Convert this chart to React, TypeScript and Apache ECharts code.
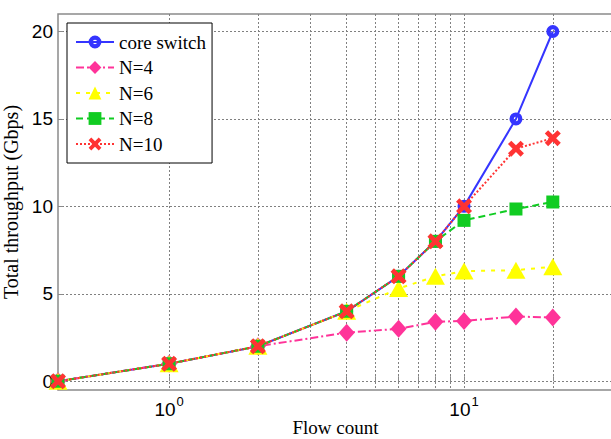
import React, { useEffect, useRef } from "react";
import * as echarts from "echarts";

const flowCounts = [0.42, 1, 2, 4, 6, 8, 10, 15, 20];
const coreSwitch = [0, 1, 2, 4, 6, 8, 10, 15, 20];
const n4 = [0, 1, 2, 2.78, 3.0, 3.4, 3.45, 3.7, 3.65];
const n6 = [0, 1, 2, 4, 5.3, 6.0, 6.3, 6.35, 6.55];
const n8 = [0, 1, 2, 4, 6, 8, 9.2, 9.85, 10.25];
const n10 = [0, 1, 2, 4, 6, 8, 10, 13.3, 13.9];

const xGridValues = [1, 2, 3, 4, 5, 6, 7, 8, 9, 10, 20];
const xLabelValues = [1, 10];
const yTickValues = [0, 5, 10, 15, 20];

const seriesNames = ["core switch", "N=4", "N=6", "N=8", "N=10"];

const crossPath =
  "path://M2.5,0 L6,3.5 L9.5,0 L12,2.5 L8.5,6 L12,9.5 L9.5,12 L6,8.5 L2.5,12 L0,9.5 L3.5,6 L0,2.5 Z";
const ringPath =
  "path://M0,6.5 A6.5,6.5 0 1,0 13,6.5 A6.5,6.5 0 1,0 0,6.5 Z M4.3,6.5 A2.2,2.2 0 1,1 8.7,6.5 A2.2,2.2 0 1,1 4.3,6.5 Z";

function pairs(ys: number[]) {
  return flowCounts.map((x, i) => [x, ys[i]]);
}

export default function App() {
  const ref = useRef<HTMLDivElement>(null);
  useEffect(() => {
    if (!ref.current) return;
    const chart = echarts.init(ref.current, null, { renderer: "svg" });
    const sans = "Liberation Sans";
    const serif = "Liberation Serif";
    chart.setOption({
      animation: false,
      backgroundColor: "#fff",
      grid: {
        left: 58,
        top: 14,
        width: 555,
        height: 376,
        show: true,
        borderColor: "#8a8a8a",
        borderWidth: 1.5,
        backgroundColor: "transparent",
        containLabel: false,
        outerBoundsMode: "none",
      },
      legend: {
        data: seriesNames,
        orient: "vertical",
        left: 67,
        top: 23,
        padding: [9, 6, 9, 8],
        itemGap: 5.5,
        itemWidth: 38,
        itemHeight: 16,
        backgroundColor: "#fff",
        borderColor: "#000",
        borderWidth: 1,
        borderRadius: 0,
        textStyle: { fontFamily: serif, fontSize: 19, color: "#000", lineHeight: 20 },
      },
      xAxis: {
        type: "log",
        logBase: 10,
        min: 0.42,
        max: 32,
        name: "Flow count",
        nameLocation: "middle",
        nameGap: 28,
        nameMoveOverlap: false,
        nameTextStyle: { fontFamily: serif, fontSize: 19, color: "#000", lineHeight: 19 },
        axisLine: { show: false },
        axisTick: {
          show: true,
          inside: true,
          length: 5,
          customValues: xGridValues,
          lineStyle: { color: "#8a8a8a" },
        },
        axisLabel: {
          customValues: xLabelValues,
          margin: 5,
          formatter: (v: number) =>
            "{b|10}{s|" + Math.round(Math.log10(v)) + "}",
          rich: {
            b: { fontFamily: sans, fontSize: 19, color: "#000", verticalAlign: "middle" },
            s: {
              fontFamily: sans,
              fontSize: 13,
              color: "#000",
              verticalAlign: "top",
              padding: [0, 0, 16, 1],
            },
          },
        },
        splitLine: {
          show: true,
          lineStyle: { color: "#808080", type: [2, 2], width: 1 },
        },
      },
      yAxis: {
        type: "value",
        min: -0.5,
        max: 21,
        name: "Total throughput (Gbps)",
        nameLocation: "middle",
        nameGap: 34,
        nameTextStyle: { fontFamily: serif, fontSize: 20, color: "#000" },
        axisLine: { show: false },
        axisTick: {
          show: true,
          inside: true,
          length: 5,
          customValues: yTickValues,
          lineStyle: { color: "#8a8a8a" },
        },
        axisLabel: {
          customValues: yTickValues,
          margin: 5,
          fontFamily: sans,
          fontSize: 19,
          color: "#000",
        },
        splitLine: {
          show: true,
          lineStyle: { color: "#808080", type: [2, 2], width: 1 },
        },
      },
      series: [
        {
          name: "core switch",
          type: "line",
          data: pairs(coreSwitch),
          symbol: ringPath,
          symbolSize: 13,
          color: "#3535ff",
          lineStyle: { width: 2, type: "solid" },
        },
        {
          name: "N=4",
          type: "line",
          data: pairs(n4),
          symbol: "diamond",
          symbolSize: [16, 18],
          color: "#ff3399",
          lineStyle: { width: 2, type: [8, 3, 2, 3] },
        },
        {
          name: "N=6",
          type: "line",
          data: pairs(n6),
          symbol: "triangle",
          symbolSize: [19, 17],
          color: "#ffff00",
          lineStyle: { width: 2, type: [4, 6] },
        },
        {
          name: "N=8",
          type: "line",
          data: pairs(n8),
          symbol: "rect",
          symbolSize: 13,
          color: "#11cc22",
          lineStyle: { width: 2, type: [7, 4] },
        },
        {
          name: "N=10",
          type: "line",
          data: pairs(n10),
          symbol: crossPath,
          symbolSize: 16,
          color: "#ff3333",
          lineStyle: { width: 2, type: [2, 2] },
        },
      ],
    });
    return () => chart.dispose();
  }, []);
  return (
    <div
      ref={ref}
      style={{ position: "fixed", left: 0, top: 0, width: 611, height: 439 }}
    />
  );
}
